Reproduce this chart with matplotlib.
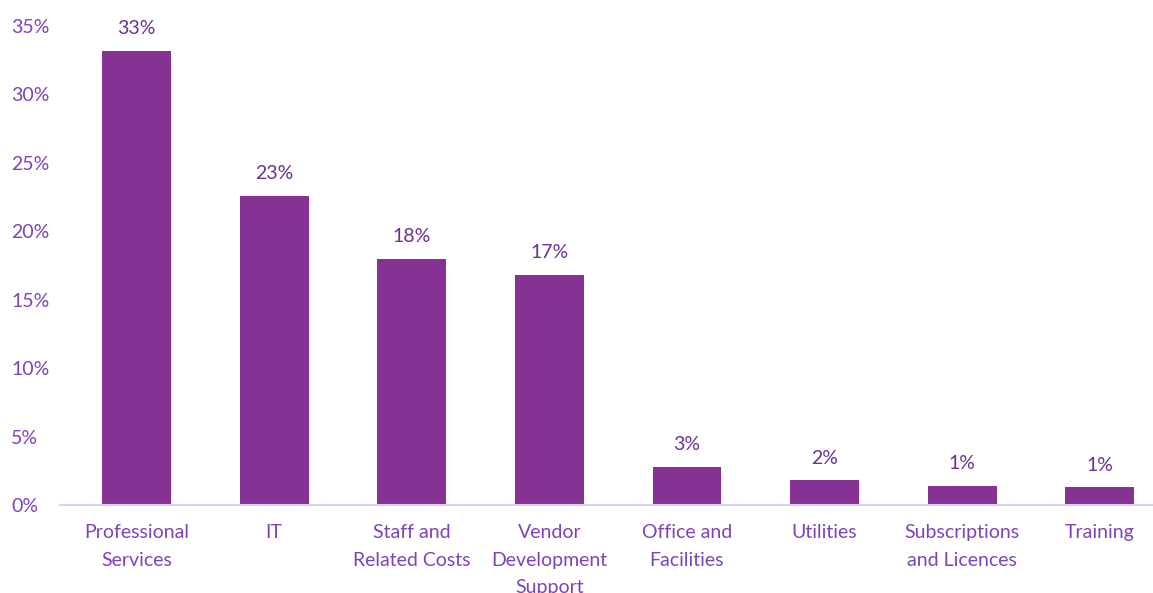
import numpy as np
import matplotlib.pyplot as plt

categories = ["Professional\nServices", "IT", "Staff and\nRelated Costs", "Vendor\nDevelopment\nSupport",
              "Office and\nFacilities", "Utilities", "Subscriptions\nand Licences", "Training"]
values = [33.2, 22.6, 18.0, 16.8, 2.8, 1.8, 1.4, 1.3]
labels = ["33%", "23%", "18%", "17%", "3%", "2%", "1%", "1%"]
yticks = [0, 5, 10, 15, 20, 25, 30, 35]

bar_color = "#853294"
tick_color = "#7E42BA"
label_color = "#6A3096"

plt.rcParams['font.family'] = ['Lato', 'DejaVu Sans']

fig = plt.figure(figsize=(11.53, 5.93), dpi=100)
ax = fig.add_axes([60 / 1153, 0.1484, 1 - 60 / 1153, 0.8077])

x = np.arange(len(categories))
ax.bar(x, values, width=0.5, color=bar_color, zorder=2)
for xi, v, lab in zip(x, values, labels):
    ax.text(xi, v + 1.0, lab, ha="center", va="bottom", fontsize=14, color=label_color)

ax.set_xlim(-0.556, 7.387)
ax.set_ylim(0, 35)
ax.set_yticks(yticks)
ax.set_yticklabels([f"{t}%" for t in yticks])
ax.set_xticks(x)
ax.set_xticklabels(categories, linespacing=1.72)

for s in ["top", "right", "left"]:
    ax.spines[s].set_visible(False)
ax.spines["bottom"].set_color("#DCCDEB")
ax.spines["bottom"].set_linewidth(1.5)
ax.tick_params(axis="both", length=0, labelsize=14, colors=tick_color)
ax.tick_params(axis="x", pad=14)
ax.tick_params(axis="y", pad=35)
for lab in ax.get_yticklabels():
    lab.set_horizontalalignment("left")

fig.savefig("out.png", dpi=100)
